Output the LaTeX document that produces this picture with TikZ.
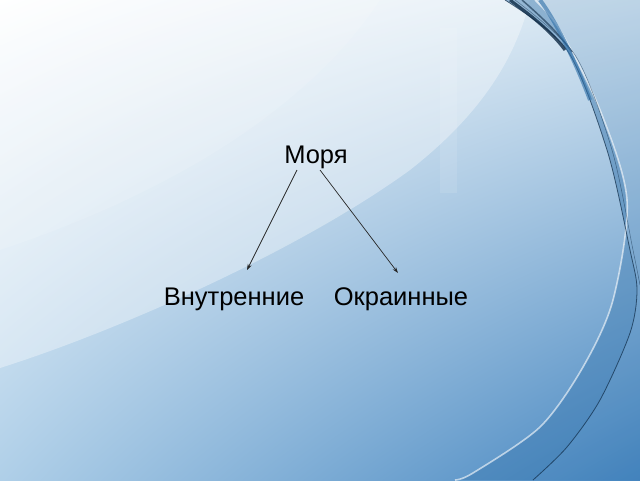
\documentclass[tikz,border=0pt]{standalone}
\usepackage{fontspec}
\setmainfont{Liberation Sans}
\usetikzlibrary{arrows.meta,shadings}
\definecolor{bgA}{HTML}{AFCFE8}
\definecolor{bgB}{HTML}{D6E6F2}
\definecolor{bgC}{HTML}{4686C0}
\definecolor{band}{HTML}{2E6FA8}
\definecolor{navy}{HTML}{0E2A45}
\tikzset{
  lbl/.style={font=\fontsize{25.5}{30}\selectfont, text=black, inner sep=2pt},
  conn/.style={draw=black!85, line width=0.7pt, -{Stealth[length=6pt,width=4pt]}}
}
\begin{document}
\begin{tikzpicture}[x=1pt,y=-1pt]
\useasboundingbox (0,0) rectangle (640,480);
% background
\shade[upper left=white, upper right=bgB, lower left=bgA, lower right=bgC] (0,0) rectangle (640,480);
% light region top-left
\fill[white, opacity=0.35] (0,0) -- (0,368) .. controls (120,330) and (300,250) .. (410,170)
  .. controls (480,115) and (515,60) .. (530,0) -- cycle;
\fill[white, opacity=0.12] (0,0) -- (0,250) .. controls (150,200) and (300,120) .. (380,0) -- cycle;
% faint vertical strip
\fill[white, opacity=0.1] (440,28) rectangle (457,193);
% swoosh band between light line and dark outer line
\fill[band, opacity=0.35] plot[smooth] coordinates {(505,0) (567,50) (607,150) (630,250) (637,290) (630,333) (600,400) (567,447) (533,480)}
  -- plot[smooth] coordinates {(455,480) (473,473) (540,427) (583,367) (613,300) (627,200) (600,110) (560,30) (535,0)} -- cycle;
% right region beyond band
\fill[band, opacity=0.15] plot[smooth] coordinates {(505,0) (567,50) (607,150) (630,250) (637,290) (630,333) (600,400) (567,447) (533,480)} -- (640,480) -- (640,0) -- cycle;
% light line
\draw[white, opacity=0.6, line width=1.6pt] plot[smooth] coordinates {(455,480) (473,473) (540,427) (583,367) (613,300) (627,200) (600,110) (560,30) (535,0)};
% dark line
\draw[navy, opacity=0.7, line width=0.8pt] plot[smooth] coordinates {(505,0) (567,50) (607,150) (630,250) (637,290) (630,333) (600,400) (567,447) (533,480)};
\draw[navy, opacity=0.5, line width=0.5pt] plot[smooth] coordinates {(515,0) (575,55) (612,150) (633,250) (640,285)};
% dark streaks at top
\draw[navy, opacity=0.8, line width=3pt] (510,0) .. controls (530,15) and (550,30) .. (565,50);
\draw[navy, opacity=0.6, line width=1.5pt] (522,0) .. controls (545,20) and (560,35) .. (572,52);
\draw[band, opacity=0.6, line width=4pt] (540,0) .. controls (555,20) and (575,60) .. (590,100);
% diagram
\node[lbl] (m) at (316,157) {Моря};
\node[lbl] (v) at (234,299) {Внутренние};
\node[lbl] (o) at (401,299) {Окраинные};
\coordinate (m1) at (297,170);
\coordinate (m2) at (320,170);
\coordinate (v1) at (247,270);
\coordinate (o1) at (398,273);
\draw[conn] (m1) -- (v1);
\draw[conn] (m2) -- (o1);
\end{tikzpicture}
\end{document}
